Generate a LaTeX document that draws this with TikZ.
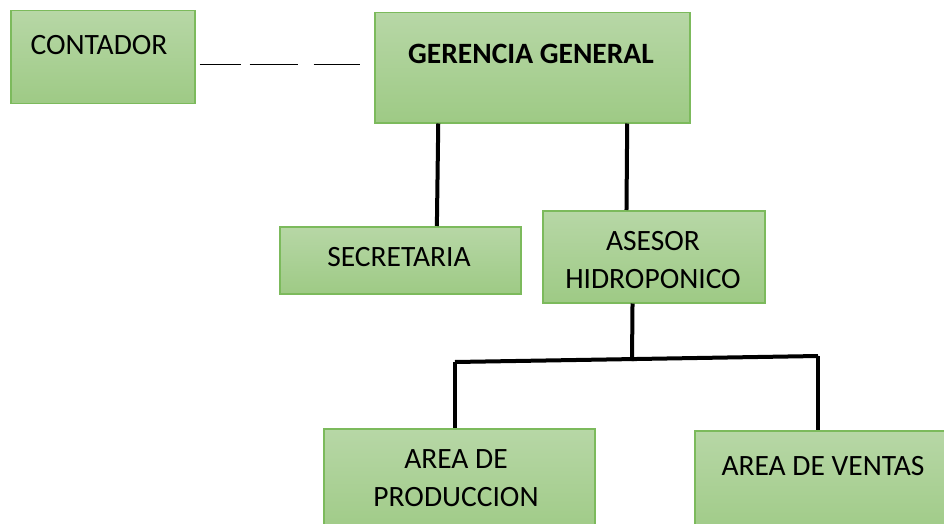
\documentclass[tikz,border=0pt]{standalone}
\usepackage{fontspec}
\setmainfont{Carlito}
\usetikzlibrary{calc}
\definecolor{boxtop}{RGB}{183,215,166}
\definecolor{boxbot}{RGB}{158,202,133}
\definecolor{boxline}{RGB}{124,186,92}

\begin{document}
\begin{tikzpicture}[
  x=1pt, y=-1pt,
  font=\fontsize{29.5}{38}\selectfont,
  box/.style={rectangle, draw=boxline, line width=1.5pt, top color=boxtop, bottom color=boxbot, anchor=north west, inner sep=0pt},
  boxtext/.style={anchor=base, inner sep=0pt},
  conn/.style={line width=4pt},
  dashline/.style={line width=1.3pt, dash pattern=on 41pt off 9pt on 48pt off 16pt on 48pt}
]
\useasboundingbox (0,0) rectangle (944,524);

% boxes
\node (cont) [box, minimum width=184pt, minimum height=93pt] at (10,10) {};
\node (ger) [box, minimum width=315pt, minimum height=110pt] at (374,12) {};
\node (sec) [box, minimum width=241pt, minimum height=67pt] at (279,226) {};
\node (ase) [box, minimum width=222pt, minimum height=92pt] at (542,210) {};
\node (prod) [box, minimum width=271pt, minimum height=110pt] at (323,428) {};
\node (ven) [box, minimum width=270pt, minimum height=110pt] at (694,430) {};

% texts
\node (contT) [boxtext] at (99,55) {CONTADOR};
\node (gerT) [boxtext, font=\fontsize{29.5}{38}\selectfont\bfseries] at (531,64) {GERENCIA GENERAL};
\node (secT) [boxtext] at (399,266) {SECRETARIA};
\node (aseT) [boxtext] at (653,250) {ASESOR};
\node (aseB) [boxtext] at (653,288) {HIDROPONICO};
\node (prodT) [boxtext] at (456,468) {AREA DE};
\node (prodB) [boxtext] at (456,506) {PRODUCCION};
\node (venT) [boxtext] at (823,475) {AREA DE VENTAS};

% connectors
\draw [dashline, shorten <=4pt, shorten >=14pt] ([yshift=-7.5pt]cont.east) -- ([yshift=3pt]ger.west);
\draw [conn] ($(ger.south west)!0.203!(ger.south east)$) -- ($(sec.north west)!0.651!(sec.north east)$);
\draw [conn] ($(ger.south west)!0.8!(ger.south east)$) -- ($(ase.north west)!0.378!(ase.north east)$);

\coordinate (hub) at (632,361);
\coordinate (jl) at (455,362);
\coordinate (jr) at (818,356);
\draw [conn] ($(ase.south west)!0.405!(ase.south east)$) -- (hub);
\draw [conn] (jl) -- (jr);
\draw [conn] (jl) -- (jl |- prod.north);
\draw [conn] (jr) -- (jr |- ven.north);

\end{tikzpicture}
\end{document}
